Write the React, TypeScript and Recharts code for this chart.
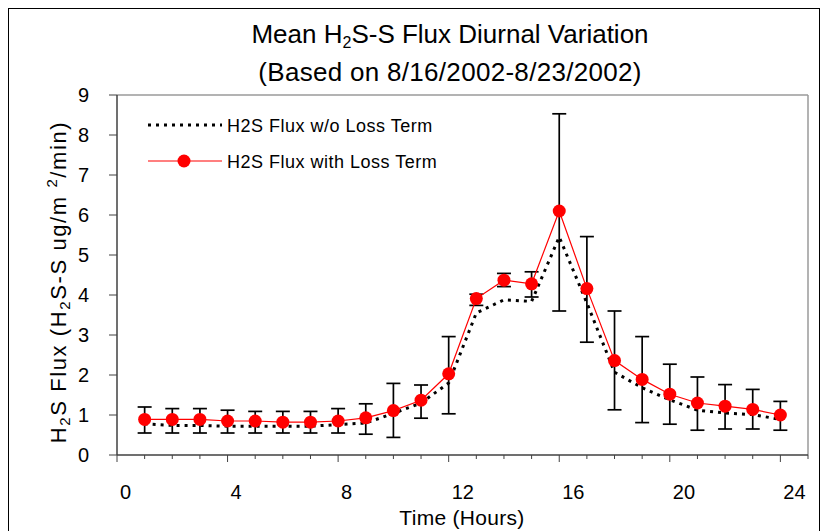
import React from "react";
import {
  ErrorBar,
  Line,
  LineChart,
  ReferenceLine,
  XAxis,
  YAxis,
} from "recharts";

// hourly means, 8/16/2002 - 8/23/2002
const hours = [1, 2, 3, 4, 5, 6, 7, 8, 9, 10, 11, 12, 13, 14, 15, 16, 17, 18, 19, 20, 21, 22, 23, 24];
const fluxWithLoss = [0.89, 0.89, 0.89, 0.85, 0.85, 0.82, 0.82, 0.85, 0.93, 1.11, 1.37, 2.03, 3.91, 4.37, 4.28, 6.1, 4.16, 2.36, 1.89, 1.52, 1.3, 1.22, 1.14, 1.0];
const fluxNoLoss = [0.78, 0.74, 0.74, 0.72, 0.72, 0.72, 0.72, 0.76, 0.8, 1.04, 1.3, 1.8, 3.55, 3.88, 3.84, 5.45, 3.8, 2.07, 1.68, 1.38, 1.12, 1.05, 1.01, 0.89];
const barHigh = [1.2, 1.16, 1.16, 1.12, 1.09, 1.09, 1.09, 1.16, 1.28, 1.79, 1.75, 2.96, 4.02, 4.54, 4.58, 8.53, 5.46, 3.6, 2.96, 2.27, 1.95, 1.76, 1.64, 1.34];
const barLow = [0.55, 0.55, 0.55, 0.55, 0.55, 0.55, 0.55, 0.55, 0.52, 0.44, 0.92, 1.03, 3.74, 4.21, 3.95, 3.6, 2.82, 1.13, 0.81, 0.77, 0.62, 0.65, 0.65, 0.62];
const xTicks = [0, 1, 2, 3, 4, 5, 6, 7, 8, 9, 10, 11, 12, 13, 14, 15, 16, 17, 18, 19, 20, 21, 22, 23, 24, 25];
const yTicks = [0, 1, 2, 3, 4, 5, 6, 7, 8, 9];

const data = hours.map((h, i) => ({
  hour: h,
  withLoss: fluxWithLoss[i],
  noLoss: fluxNoLoss[i],
  err: [fluxWithLoss[i] - barLow[i], barHigh[i] - fluxWithLoss[i]],
}));

const FONT = "'Liberation Sans', Arial, sans-serif";
const AXIS = "#404040";
const RED = "#ff0000";

function XTick(props: any) {
  const { x, y, payload } = props;
  const v = payload.value as number;
  const major = v % 4 === 0;
  return (
    <g>
      <line x1={x} x2={x} y1={y} y2={y + (major ? 7 : 4)} stroke={AXIS} strokeWidth={1} />
      {major && v <= 24 && (
        <text x={x + 3} y={y + 44} textAnchor="start" fontSize={20} fill="#000" fontFamily={FONT}>
          {v}
        </text>
      )}
    </g>
  );
}

// legend drawn by hand, in the top-left of the plot
function LegendBox({ x, y }: { x: number; y: number }) {
  return (
    <g transform={`translate(${x},${y})`}>
      <line x1={8} x2={82} y1={15} y2={15} stroke="#000" strokeWidth={3} strokeDasharray="3 5" />
      <text x={87} y={21.5} fontSize={18} letterSpacing={0.5} fill="#000">
        H2S Flux w/o Loss Term
      </text>
      <line x1={8} x2={82} y1={51} y2={51} stroke={RED} strokeWidth={1.2} />
      <circle cx={44} cy={51} r={6.5} fill={RED} />
      <text x={87} y={57.5} fontSize={18} letterSpacing={0.5} fill="#000">
        H2S Flux with Loss Term
      </text>
    </g>
  );
}

export default function App() {
  return (
    <div style={{ position: "fixed", left: 0, top: 0, width: 822, height: 531, overflow: "hidden", background: "#fff", fontFamily: FONT }}>
      <div style={{ position: "absolute", left: 8, top: 8, width: 812, height: 600, border: "1px solid #000", boxSizing: "border-box" }} />
      <div style={{ position: "absolute", left: 0, top: 0 }}>
        <LineChart width={822} height={531} data={data} margin={{ top: 95, right: 14, bottom: 1, left: 17 }}>
          <XAxis
            dataKey="hour"
            type="number"
            domain={[0, 25]}
            ticks={xTicks}
            interval={0}
            height={75}
            tickSize={0}
            tickMargin={0}
            tickLine={false}
            tick={<XTick />}
            axisLine={{ stroke: AXIS, strokeWidth: 1.5 }}
          />
          <YAxis
            type="number"
            domain={[0, 9]}
            ticks={yTicks}
            interval={0}
            width={100}
            tickSize={8}
            tickMargin={20}
            tick={{ fontSize: 20, fill: "#000", fontFamily: FONT }}
            tickLine={{ stroke: AXIS }}
            axisLine={{ stroke: AXIS, strokeWidth: 1.5 }}
          />
          <ReferenceLine y={9} stroke="#9a9a9a" strokeWidth={1.5} />
          <ReferenceLine x={25} stroke="#9a9a9a" strokeWidth={1.5} />
          <Line
            dataKey="noLoss"
            stroke="#000"
            strokeWidth={3}
            strokeDasharray="3 5"
            dot={false}
            activeDot={false}
            isAnimationActive={false}
          />
          <Line
            dataKey="withLoss"
            stroke={RED}
            strokeWidth={1.2}
            dot={{ r: 6.5, fill: RED, stroke: RED, strokeWidth: 0 }}
            activeDot={false}
            isAnimationActive={false}
          >
            <ErrorBar dataKey="err" direction="y" width={7} stroke="#000" strokeWidth={1.7} isAnimationActive={false} />
          </Line>
        </LineChart>
      </div>
      <svg width={822} height={531} style={{ position: "absolute", left: 0, top: 0, pointerEvents: "none" }} fontFamily={FONT}>
        <LegendBox x={140} y={110} />
        <text x={450} y={43} textAnchor="middle" fontSize={26} fill="#000">
          Mean H<tspan fontSize={16} dy={5}>2</tspan>
          <tspan dy={-5}>S-S Flux Diurnal Variation</tspan>
        </text>
        <text x={450} y={81} textAnchor="middle" fontSize={26} letterSpacing={0.3} fill="#000">
          (Based on 8/16/2002-8/23/2002)
        </text>
        <text x={462} y={525} textAnchor="middle" fontSize={21} letterSpacing={0.3} fill="#000">
          Time (Hours)
        </text>
        <text transform="translate(66,282) rotate(-90)" textAnchor="middle" fontSize={22} letterSpacing={1.6} fill="#000">
          H<tspan fontSize={15} dy={4}>2</tspan>
          <tspan dy={-4}>S Flux (H</tspan>
          <tspan fontSize={15} dy={4}>2</tspan>
          <tspan dy={-4}>S-S ug/m </tspan>
          <tspan fontSize={15} dy={-9}>2</tspan>
          <tspan dy={9}>/min)</tspan>
        </text>
      </svg>
    </div>
  );
}
